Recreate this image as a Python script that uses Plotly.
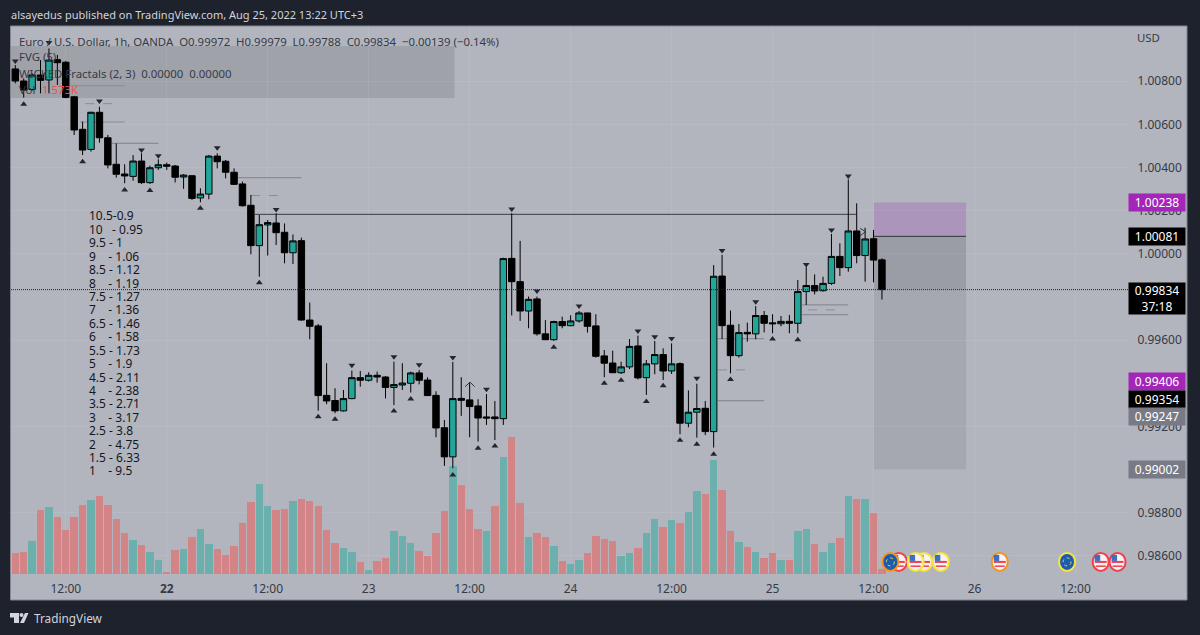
import plotly.graph_objects as go

# OHLC, one hourly bar per entry
opens = [1.00857,1.00801,1.00762,1.00829,1.00806,1.00900,1.00888,1.00728,1.00577,1.00484,
         1.00656,1.00538,1.00415,1.00370,1.00359,1.00430,1.00330,1.00399,1.00413,1.00407,
         1.00356,1.00362,1.00259,1.00277,1.00453,1.00429,1.00378,1.00324,1.00225,1.00038,
         1.00134,1.00143,1.00100,1.00005,1.00061,0.99693,0.99666,0.99344,0.99320,0.99272,
         0.99329,0.99426,0.99414,0.99437,0.99429,0.99381,0.99392,0.99400,0.99448,0.99415,
         0.99344,0.99194,0.99059,0.99330,0.99323,0.99295,0.99244,0.99244,0.99236,0.99979,
         0.99871,0.99735,0.99791,0.99629,0.99602,0.99686,0.99667,0.99689,0.99726,0.99666,
         0.99527,0.99494,0.99449,0.99476,0.99573,0.99426,0.99490,0.99533,0.99457,0.99491,
         0.99215,0.99266,0.99284,0.99176,0.99897,0.99669,0.99528,0.99636,0.99629,0.99714,
         0.99680,0.99676,0.99687,0.99678,0.99825,0.99853,0.99829,0.99863,0.99988,0.99936,
         1.00106,0.99992,1.00070,0.99972]
highs = [1.00875,1.00813,1.00837,1.00898,1.00952,1.00922,1.00894,1.00732,1.00613,1.00659,
         1.00682,1.00551,1.00512,1.00415,1.00458,1.00466,1.00409,1.00438,1.00423,1.00412,
         1.00370,1.00365,1.00304,1.00458,1.00466,1.00435,1.00396,1.00335,1.00273,1.00180,
         1.00157,1.00188,1.00141,1.00090,1.00075,0.99774,0.99675,0.99493,0.99377,0.99369,
         0.99459,0.99457,0.99451,0.99454,0.99434,0.99500,0.99493,0.99454,0.99462,0.99428,
         0.99363,0.99230,0.99499,0.99428,0.99405,0.99326,0.99350,0.99318,0.99982,1.00188,
         1.00060,0.99802,0.99802,0.99693,0.99690,0.99709,0.99715,0.99735,0.99727,0.99720,
         0.99554,0.99551,0.99500,0.99605,0.99621,0.99508,0.99596,0.99562,0.99585,0.99497,
         0.99367,0.99398,0.99318,0.99948,0.99995,0.99737,0.99675,0.99681,0.99758,0.99735,
         0.99720,0.99712,0.99717,0.99879,0.99938,0.99905,0.99894,1.00092,1.00049,1.00345,
         1.00234,1.00121,1.00111,0.99979]
lows = [1.00790,1.00724,1.00756,1.00744,1.00744,1.00783,1.00721,1.00551,1.00458,1.00474,
        1.00515,1.00396,1.00353,1.00327,1.00339,1.00324,1.00324,1.00389,1.00389,1.00331,
        1.00301,1.00250,1.00239,1.00253,1.00396,1.00350,1.00319,1.00219,0.99998,0.99894,
        0.99992,1.00041,0.99956,0.99953,0.99690,0.99604,0.99273,0.99303,0.99261,0.99269,
        0.99326,0.99384,0.99408,0.99403,0.99330,0.99299,0.99369,0.99357,0.99395,0.99341,
        0.99150,0.99017,0.99006,0.99249,0.99150,0.99130,0.99207,0.99137,0.99207,0.99714,
        0.99689,0.99655,0.99621,0.99602,0.99596,0.99655,0.99664,0.99681,0.99635,0.99519,
        0.99428,0.99448,0.99443,0.99466,0.99418,0.99346,0.99442,0.99415,0.99443,0.99164,
        0.99196,0.99148,0.99160,0.99102,0.99605,0.99446,0.99519,0.99593,0.99604,0.99636,
        0.99632,0.99664,0.99632,0.99632,0.99763,0.99812,0.99825,0.99856,0.99897,0.99917,
        0.99956,0.99871,0.99868,0.99788]
closes = [1.00801,1.00759,1.00829,1.00804,1.00898,1.00886,1.00725,1.00574,1.00481,1.00656,
          1.00538,1.00412,1.00369,1.00361,1.00430,1.00330,1.00399,1.00413,1.00406,1.00355,
          1.00365,1.00257,1.00277,1.00453,1.00427,1.00378,1.00322,1.00223,1.00038,1.00135,
          1.00145,1.00098,1.00005,1.00060,0.99693,0.99664,0.99343,0.99318,0.99272,0.99329,
          0.99426,0.99414,0.99437,0.99429,0.99381,0.99394,0.99401,0.99448,0.99414,0.99343,
          0.99193,0.99059,0.99329,0.99321,0.99292,0.99239,0.99239,0.99236,0.99978,0.99871,
          0.99735,0.99789,0.99629,0.99602,0.99686,0.99667,0.99689,0.99726,0.99664,0.99525,
          0.99493,0.99449,0.99476,0.99571,0.99425,0.99490,0.99533,0.99457,0.99490,0.99215,
          0.99266,0.99283,0.99176,0.99896,0.99667,0.99528,0.99635,0.99629,0.99714,0.99678,
          0.99676,0.99687,0.99678,0.99825,0.99853,0.99828,0.99863,0.99988,0.99936,1.00106,
          0.99992,1.00069,0.99971,0.99834]

volumes = [6300,6600,9900,19200,20200,17000,13300,17200,20700,22100,
           23300,20700,16500,12200,10300,8700,6600,4100,600,7300,
           7500,11000,13500,8900,7500,5700,8300,15400,21600,27000,
           20400,19100,19500,21900,22500,21900,20400,13300,9400,7800,
           6600,3600,1300,3900,4800,12900,11400,9200,6900,5500,
           12200,18900,32400,26700,19500,13500,12900,20400,35000,41000,
           21200,11000,12400,11000,8400,3900,3000,4300,6200,11300,
           10400,9900,5500,6200,7800,12400,16500,14100,16200,15400,
           18700,24900,24000,34300,25100,12900,9600,8100,6600,4800,
           6200,4200,4100,12900,13500,9000,6600,9300,10800,23400,
           22400,22400,18200,1573]
vol_up_bars = [2,4,9,14,16,17,20,22,23,29,30,33,39,40,42,45,46,47,52,56,58,61,64,66,67,
               72,73,75,76,78,80,81,83,86,88,91,93,94,96,97,99,101]

# fractal arrows above / below the wicks
fractal_down_x = [0,4,10,15,17,24,31,40,45,48,52,56,59,62,67,74,76,78,81,84,88,94,97,99]
fractal_down_y = [1.00894,1.00979,1.00708,1.00481,1.00455,1.00492,1.00206,0.99483,0.99523,0.99486,
                  0.99519,0.99372,1.00208,0.99828,0.99758,0.99642,0.99616,0.99607,0.99423,1.00016,
                  0.99778,0.99950,1.00111,1.00361]
fractal_up_x = [1,8,13,16,22,29,36,38,45,47,52,55,57,64,70,72,75,77,79,81,83,85,90,93]
fractal_up_y = [1.00693,1.00427,1.00296,1.00293,1.00211,0.99866,0.99245,0.99233,0.99272,0.99327,
                0.98975,0.99099,0.99109,0.99567,0.99400,0.99414,0.99316,0.99388,0.99136,0.99117,
                0.99071,0.99417,0.99605,0.99602]

# the two small hand drawn chevrons
chevron_up_x = [53.45, 54.05, 54.6]
chevron_up_y = [0.99384, 0.99405, 0.99384]
chevron_right_x = [100.4, 101.05, 100.4]
chevron_right_y = [1.00118, 1.00103, 1.00083]

# grey FVG levels: x start, x end, price
solid_levels = [(6.3,13,1.00779),(7.7,13,1.00611),(11.5,17,1.00512),(26.5,34,1.00353),
                (83.5,89,0.99607),(83.5,89,0.99320),(93.5,99,0.99763),(93.5,99,0.99718)]
dashed_levels = [(8.3,11.5,1.00696),(28,32.3,1.00270),(83.5,87.5,0.99462),(94.2,97.5,0.99740)]

resistance = (28.5, 100, 1.00183)
fvg_box = (-1, 52.2, 1.00963, 1.00722)
last_close = 0.99834
pos_x = (102, 113)
pos_top, pos_entry, pos_stop = 1.00238, 1.00081, 0.99002

price_ticks = [0.986,0.988,0.992,0.996,1.000,1.002,1.004,1.006,1.008]
time_ticks = [6,18,30,42,54,66,78,90,102,114,126]
time_labels = ["12:00","<b>22</b>","12:00","23","12:00","24","12:00","25","12:00","26","12:00"]

table_lines = ["10.5-0.9","10   - 0.95","9.5 - 1","9    - 1.06","8.5 - 1.12","8    - 1.19",
               "7.5 - 1.27","7    - 1.36","6.5 - 1.46","6    - 1.58","5.5 - 1.73","5    - 1.9",
               "4.5 - 2.11","4    - 2.38","3.5 - 2.71","3    - 3.17","2.5 - 3.8","2    - 4.75",
               "1.5 - 6.33","1    - 9.5"]

# price badges on the right: text, price, colour, shift
badges = [("1.00238",1.00238,"#a326b8",0),("1.00081",1.00081,"#000000",0),
          ("0.99406",0.99406,"#a326b8",0),("0.99354",0.99354,"#000000",-6),
          ("0.99247",0.99247,"#787b86",0),("0.99002",0.99002,"#787b86",0)]

# calendar events: bar position, kind, ring colour (drawn in this order)
events = [(105,"us","#ef4050"),(104,"eu","#f7931a"),(108,"us","#f7e53b"),(107,"us","#f7e53b"),
          (110,"us","#f7e53b"),(117,"us","#f7931a"),(125,"eu","#f7e53b"),(129,"us","#ef4050"),
          (131,"us","#ef4050")]
event_y = 0.98572

BG = "#1e222d"
PANEL = "#b2b5be"
TEAL = "#22a699"
TXT = "#363a45"
FONT = "Noto Sans"
L, R, T, B = 11, 1131, 26, 574


def px(x):
    return (x - L) / (R - L)


def py(y):
    return (B - y) / (B - T)


bars_x = list(range(len(closes)))
vol_colors = ["#6cb0ae" if i in vol_up_bars else "#d28486" for i in bars_x]

fig = go.Figure()
fig.add_trace(go.Bar(x=bars_x, y=volumes, width=0.88, marker=dict(color=vol_colors, line_width=0),
                     yaxis="y", hoverinfo="skip"))
fig.add_trace(go.Candlestick(x=bars_x, open=opens, high=highs, low=lows, close=closes, yaxis="y2",
                             whiskerwidth=0,
                             increasing=dict(fillcolor=TEAL, line=dict(color="#000000", width=1)),
                             decreasing=dict(fillcolor="#000000", line=dict(color="#000000", width=1))))
fig.add_trace(go.Scatter(x=fractal_down_x, y=fractal_down_y, mode="markers", yaxis="y2",
                         marker=dict(symbol="triangle-down", size=6, color="#23262e"), hoverinfo="skip"))
fig.add_trace(go.Scatter(x=fractal_up_x, y=fractal_up_y, mode="markers", yaxis="y2",
                         marker=dict(symbol="triangle-up", size=6, color="#23262e"), hoverinfo="skip"))
for cx, cy in [(chevron_up_x, chevron_up_y), (chevron_right_x, chevron_right_y)]:
    fig.add_trace(go.Scatter(x=cx, y=cy, mode="lines", yaxis="y2", line=dict(color="#33353d", width=1), hoverinfo="skip"))

shapes = []
# chart panel behind everything
shapes.append(dict(type="rect", xref="paper", yref="paper", x0=px(10.5), x1=px(1187), y0=py(26), y1=py(600),
                   fillcolor=PANEL, line=dict(color="#83868f", width=1), layer="below"))
shapes.append(dict(type="rect", xref="x", yref="y2", x0=fvg_box[0], x1=fvg_box[1], y0=fvg_box[3], y1=fvg_box[2],
                   fillcolor="#a0a2aa", line_width=0, layer="below"))
shapes.append(dict(type="rect", xref="x", yref="y2", x0=pos_x[0] + 0.05, x1=pos_x[1], y0=pos_entry, y1=pos_top,
                   fillcolor="#ac95ba", line_width=0, layer="below"))
shapes.append(dict(type="rect", xref="x", yref="y2", x0=pos_x[0] + 0.05, x1=pos_x[1], y0=last_close, y1=pos_entry,
                   fillcolor="#9a9da6", line_width=0, layer="below"))
shapes.append(dict(type="rect", xref="x", yref="y2", x0=pos_x[0] + 0.05, x1=pos_x[1], y0=pos_stop, y1=last_close,
                   fillcolor="#a5a8b0", line_width=0, layer="below"))
shapes.append(dict(type="line", xref="x", yref="y2", x0=pos_x[0] + 0.05, x1=pos_x[1], y0=pos_entry, y1=pos_entry,
                   line=dict(color="#33353d", width=1)))
for x0, x1, lvl in solid_levels:
    shapes.append(dict(type="line", xref="x", yref="y2", x0=x0, x1=x1, y0=lvl, y1=lvl,
                       line=dict(color="#8a8c95", width=1.2), layer="below"))
for x0, x1, lvl in dashed_levels:
    shapes.append(dict(type="line", xref="x", yref="y2", x0=x0, x1=x1, y0=lvl, y1=lvl,
                       line=dict(color="#8a8c95", width=1, dash="dash"), layer="below"))
shapes.append(dict(type="line", xref="x", yref="y2", x0=resistance[0], x1=resistance[1], y0=resistance[2], y1=resistance[2],
                   line=dict(color="#3c3e46", width=1), layer="below"))
shapes.append(dict(type="line", xref="paper", yref="y2", x0=0, x1=1, y0=last_close, y1=last_close,
                   line=dict(color="#22252c", width=1, dash="1px,1px")))

# event icons, drawn in pixels around each position
for ex, kind, ring in events:
    base = dict(xref="x", yref="y2", xsizemode="pixel", ysizemode="pixel", xanchor=ex, yanchor=event_y)
    if kind == "eu":
        shapes.append(dict(type="circle", x0=-9, x1=9, y0=-10, y1=10, fillcolor=ring, line_width=0, **base))
        shapes.append(dict(type="circle", x0=-7, x1=7, y0=-8, y1=8, fillcolor="#1c5bb0", line_width=0, **base))
        shapes.append(dict(type="circle", x0=-4, x1=4, y0=-4, y1=4, line=dict(color="#e9d84a", width=1, dash="dot"), **base))
    else:
        shapes.append(dict(type="circle", x0=-9, x1=9, y0=-10, y1=10, fillcolor=ring, line_width=0, **base))
        shapes.append(dict(type="circle", x0=-7, x1=7, y0=-8, y1=8, fillcolor="#f7f3f3", line_width=0, **base))
        shapes.append(dict(type="rect", x0=-6, x1=6, y0=-1, y1=1, fillcolor="#ef4050", line_width=0, **base))
        shapes.append(dict(type="rect", x0=-5, x1=5, y0=-5, y1=-3.5, fillcolor="#ef4050", line_width=0, **base))
        shapes.append(dict(type="rect", x0=-6, x1=-0.5, y0=1, y1=7, fillcolor="#3a6fc4", line_width=0, **base))

# logo at the bottom
for path in ["M 10 613 L 19 613 L 19 623 L 14 623 L 14 617.5 L 10 617.5 Z",
             "M 25 613 L 28.5 613 L 24 623 L 20 623 Z"]:
    parts = path.split()
    out = []
    i = 0
    while i < len(parts):
        if parts[i] in ("M", "L"):
            out.append(f"{parts[i]} {px(float(parts[i+1]))} {py(float(parts[i+2]))}")
            i += 3
        else:
            out.append("Z")
            i += 1
    shapes.append(dict(type="path", xref="paper", yref="paper", path=" ".join(out), fillcolor="#d1d4dc", line_width=0))
shapes.append(dict(type="circle", xref="paper", yref="paper", x0=px(19.5), x1=px(23.5), y0=py(617), y1=py(613),
                   fillcolor="#d1d4dc", line_width=0))

notes = []


def add_text(x, y, text, size=12, color=TXT):
    notes.append(dict(xref="paper", yref="paper", x=px(x), y=py(y), text=text, showarrow=False,
                      xanchor="left", yanchor="middle", align="left",
                      font=dict(family=FONT, size=size, color=color)))


add_text(9, 15, "alsayedus published on TradingView.com, Aug 25, 2022 13:22 UTC+3", 11, "#d1d4dc")
add_text(17, 41, "Euro / U.S. Dollar, 1h, OANDA\u00a0\u00a0O0.99972\u00a0\u00a0H0.99979\u00a0\u00a0L0.99788\u00a0\u00a0C0.99834\u00a0\u00a0\u22120.00139 (\u22120.14%)", 11.4)
add_text(17, 57, "FVG (5)", 11.4)
add_text(17, 73, "WICKED Fractals (2, 3)\u00a0\u00a00.00000\u00a0\u00a00.00000", 11.4)
add_text(17, 89, "Vol", 11.4)
add_text(40, 89, "1.573K", 11.4, "#ef5350")
add_text(1135, 38, "USD", 11.4)
add_text(32, 618, "TradingView", 11.8, "#d1d4dc")
for k, line in enumerate(table_lines):
    add_text(87, 216 + k * 13.42, line.replace(" ", "\u00a0"), 12, "#15171c")
for text, price, color, shift in badges:
    notes.append(dict(xref="paper", yref="y2", x=px(1127.5), y=price, yshift=shift, text=text, showarrow=False,
                      xanchor="left", width=54, height=15, bgcolor=color, align="center",
                      font=dict(family=FONT, size=12, color="#ffffff")))
notes.append(dict(xref="paper", yref="y2", x=px(1127.5), y=last_close, yshift=8, yanchor="top",
                  text="0.99834<br>37:18", showarrow=False, xanchor="left", width=54, height=29,
                  bgcolor="#000000", align="center", font=dict(family=FONT, size=12, color="#ffffff")))

fig.update_layout(
    width=1200, height=635,
    margin=dict(l=L, r=1200 - R, t=T, b=635 - B),
    paper_bgcolor=BG, plot_bgcolor="rgba(0,0,0,0)",
    showlegend=False, bargap=0, boxgap=0.1, boxgroupgap=0.15,
    shapes=shapes, annotations=notes,
    font=dict(family=FONT, size=12, color=TXT),
    xaxis=dict(range=[-0.51, 132.6], tickvals=time_ticks, ticktext=time_labels, showgrid=True,
               gridcolor="rgba(255,255,255,0.07)",
               rangeslider=dict(visible=False), ticks="outside", ticklen=4, tickcolor="rgba(0,0,0,0)",
               showline=False, zeroline=False),
    yaxis=dict(range=[0, 164400], visible=False, fixedrange=True),
    yaxis2=dict(range=[0.98516, 1.01056], overlaying="y", side="right", tickvals=price_ticks,
                tickformat=".5f", showgrid=True, gridcolor="rgba(255,255,255,0.07)", zeroline=False, ticks="outside",
                ticklen=3, tickcolor="rgba(0,0,0,0)", showline=False),
)

# the page keeps a default 8px body margin otherwise
fig.write_html("out.html", config=dict(displayModeBar=False),
               post_script="document.body.style.margin='0';document.documentElement.style.overflow='hidden';")
